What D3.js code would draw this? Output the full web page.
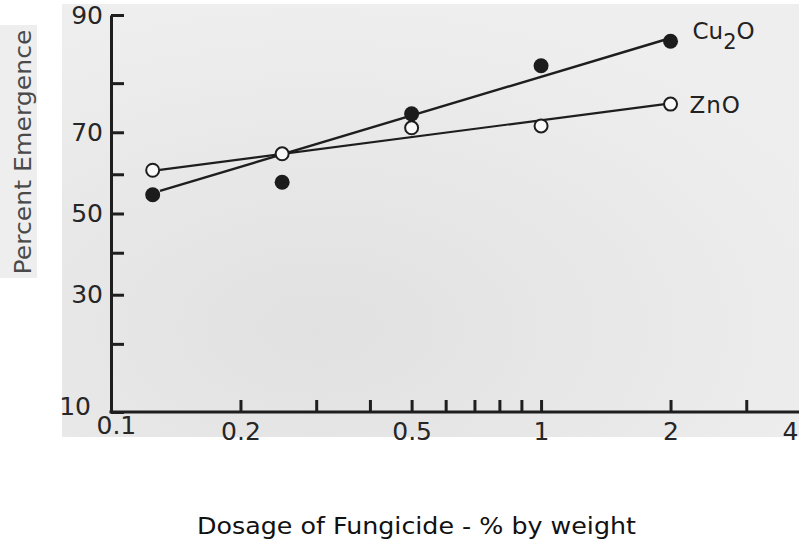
<!DOCTYPE html>
<html>
<head>
<meta charset="utf-8">
<script src="https://cdn.jsdelivr.net/npm/d3@7"></script>
<style>
  body { margin: 0; background: #fff; }
  svg { display: block; font-family: "DejaVu Sans", sans-serif; }
  .axis path, .axis line { stroke: #1e1e1e; stroke-width: 3; }
  .axis text { fill: #262626; font-size: 25px; font-family: "DejaVu Sans", sans-serif; }
</style>
</head>
<body>
<div id="chart"></div>
<script>
// data
const dosage = [0.125, 0.25, 0.5, 1, 2];
const cu2o = [54.8, 58, 74, 83, 86.7];
const zno = [61, 65, 71, 71.4, 76];
// fitted lines (end points)
const fitDose = [0.13, 1.94];
const cu2oFit = [55.8, 86.9];
const znoFit = [61.1, 76];

const yTicks = [10, 20, 30, 40, 50, 60, 70, 80, 90];
const yLabels = [10, 30, 50, 70, 90];
const xTicks = [0.1, 0.2, 0.3, 0.4, 0.5, 0.6, 0.7, 0.8, 0.9, 1, 2, 3, 4];
const xLabels = {0.1: "0.1", 0.2: "0.2", 0.5: "0.5", 1: "1", 2: "2", 4: "4"};

const W = 799, H = 548;

// inverse normal cdf (probability paper) - Acklam
function probit(p){
  const a = [-39.69683028665376, 220.9460984245205, -275.9285104469687, 138.3577518672690, -30.66479806614716, 2.506628277459239];
  const b = [-54.47609879822406, 161.5858368580409, -155.6989798598866, 66.80131188771972, -13.28068155288572];
  const c = [-0.007784894002430293, -0.3223964580411365, -2.400758277161838, -2.549732539343734, 4.374664141464968, 2.938163982698783];
  const d = [0.007784695709041462, 0.3224671290700398, 2.445134137142996, 3.754408661907416];
  const pl = 0.02425;
  let q, r;
  if(p < pl){
    q = Math.sqrt(-2*Math.log(p));
    return (((((c[0]*q+c[1])*q+c[2])*q+c[3])*q+c[4])*q+c[5])/((((d[0]*q+d[1])*q+d[2])*q+d[3])*q+1);
  }
  if(p > 1-pl){
    q = Math.sqrt(-2*Math.log(1-p));
    return -(((((c[0]*q+c[1])*q+c[2])*q+c[3])*q+c[4])*q+c[5])/((((d[0]*q+d[1])*q+d[2])*q+d[3])*q+1);
  }
  q = p - 0.5; r = q*q;
  return (((((a[0]*r+a[1])*r+a[2])*r+a[3])*r+a[4])*r+a[5])*q/(((((b[0]*r+b[1])*r+b[2])*r+b[3])*r+b[4])*r+1);
}

const x = d3.scaleLog().domain([0.1, 4]).range([111, 800]);
const yz = d3.scaleLinear().domain([probit(0.1), probit(0.9)]).range([412, 15]);
const y = function(pct){ return yz(probit(pct/100)); };

const svg = d3.select("#chart").append("svg")
  .attr("width", W).attr("height", H);

// paper background
const defs = svg.append("defs");
const grad = defs.append("radialGradient").attr("id", "paper")
  .attr("cx", "0.35").attr("cy", "0.75").attr("r", "0.75");
grad.append("stop").attr("offset", "0%").attr("stop-color", "#e1e1e1");
grad.append("stop").attr("offset", "100%").attr("stop-color", "#eeeeee");

svg.append("rect").attr("x", 62).attr("y", 4).attr("width", W - 62).attr("height", 433)
  .attr("fill", "url(#paper)");
svg.append("rect").attr("x", 0).attr("y", 25).attr("width", 37).attr("height", 253)
  .attr("fill", "#eeeeee");

// y axis (probit), ticks pointing inward
svg.append("g").attr("class", "axis yAxis")
  .attr("transform", "translate(" + x(0.1) + ",0)")
  .call(d3.axisLeft(yz)
    .tickValues(yTicks.map(function(t){ return probit(t/100); }))
    .tickSizeInner(-13).tickSizeOuter(0).tickPadding(8)
    .tickFormat(function(d, i){ return yLabels.indexOf(yTicks[i]) >= 0 ? yTicks[i] : ""; }));

// x axis (log)
const xg = svg.append("g").attr("class", "axis xAxis")
  .attr("transform", "translate(0," + yz.range()[0] + ")")
  .call(d3.axisBottom(x)
    .tickValues(xTicks)
    .tickSizeInner(-12).tickSizeOuter(0).tickPadding(10)
    .tickFormat(function(d){ return xLabels[d] || ""; }));
xg.select(".domain").attr("d", "M" + (x(0.1) - 1.5) + ",0H" + W);

// corner labels "10" and "0.1" sit staggered like on the original
xg.selectAll(".tick").filter(function(d){ return d === 0.1; }).select("line").remove();
xg.selectAll(".tick").filter(function(d){ return d === 0.1; }).select("text")
  .attr("text-anchor", "start").attr("x", -15).attr("y", 4).attr("font-size", 23);
xg.selectAll(".tick").filter(function(d){ return d === 4; }).select("text").attr("dx", "-10");
svg.select(".yAxis").selectAll(".tick").filter(function(d, i){ return i === 0; }).select("text")
  .attr("x", -20).attr("y", -6).attr("font-size", 23);

// fitted lines
const line = d3.line()
  .x(function(d){ return x(d[0]); })
  .y(function(d){ return y(d[1]); });

svg.append("path").attr("class", "fit")
  .attr("d", line(fitDose.map(function(d, i){ return [d, cu2oFit[i]]; })))
  .attr("fill", "none").attr("stroke", "#1e1e1e").attr("stroke-width", 2.4);
svg.append("path").attr("class", "fit")
  .attr("d", line(fitDose.map(function(d, i){ return [d, znoFit[i]]; })))
  .attr("fill", "none").attr("stroke", "#1e1e1e").attr("stroke-width", 2.2);

// points
svg.selectAll(".cu").data(dosage).enter().append("circle")
  .attr("class", "cu")
  .attr("cx", function(d){ return x(d); })
  .attr("cy", function(d, i){ return y(cu2o[i]); })
  .attr("r", 7.5).attr("fill", "#1c1c1c");

svg.selectAll(".zn").data(dosage).enter().append("circle")
  .attr("class", "zn")
  .attr("cx", function(d){ return x(d); })
  .attr("cy", function(d, i){ return y(zno[i]); })
  .attr("r", 6.5).attr("fill", "#fafafa").attr("stroke", "#1e1e1e").attr("stroke-width", 2);

// series labels
const last = dosage.length - 1;
const cuLab = svg.append("text")
  .attr("x", x(dosage[last]) + 22).attr("y", y(cu2o[last]) - 2)
  .attr("font-size", 23).attr("fill", "#222");
cuLab.append("tspan").text("Cu");
cuLab.append("tspan").attr("dy", 10).attr("font-size", 21).text("2");
cuLab.append("tspan").attr("dy", -10).text("O");

svg.append("text")
  .attr("x", x(dosage[last]) + 19).attr("y", y(zno[last]) + 9)
  .attr("font-size", 23).attr("fill", "#222").attr("letter-spacing", 1)
  .text("ZnO");

// axis titles
svg.append("text")
  .attr("transform", "translate(31,152) rotate(-90)")
  .attr("text-anchor", "middle")
  .attr("font-size", 23).attr("fill", "#4a4a4a")
  .attr("textLength", 245).attr("lengthAdjust", "spacingAndGlyphs")
  .text("Percent Emergence");

svg.append("text")
  .attr("x", 197).attr("y", 534)
  .attr("font-size", 23).attr("fill", "#111")
  .attr("textLength", 439).attr("lengthAdjust", "spacingAndGlyphs")
  .text("Dosage  of  Fungicide -  %  by  weight");
</script>
</body>
</html>
